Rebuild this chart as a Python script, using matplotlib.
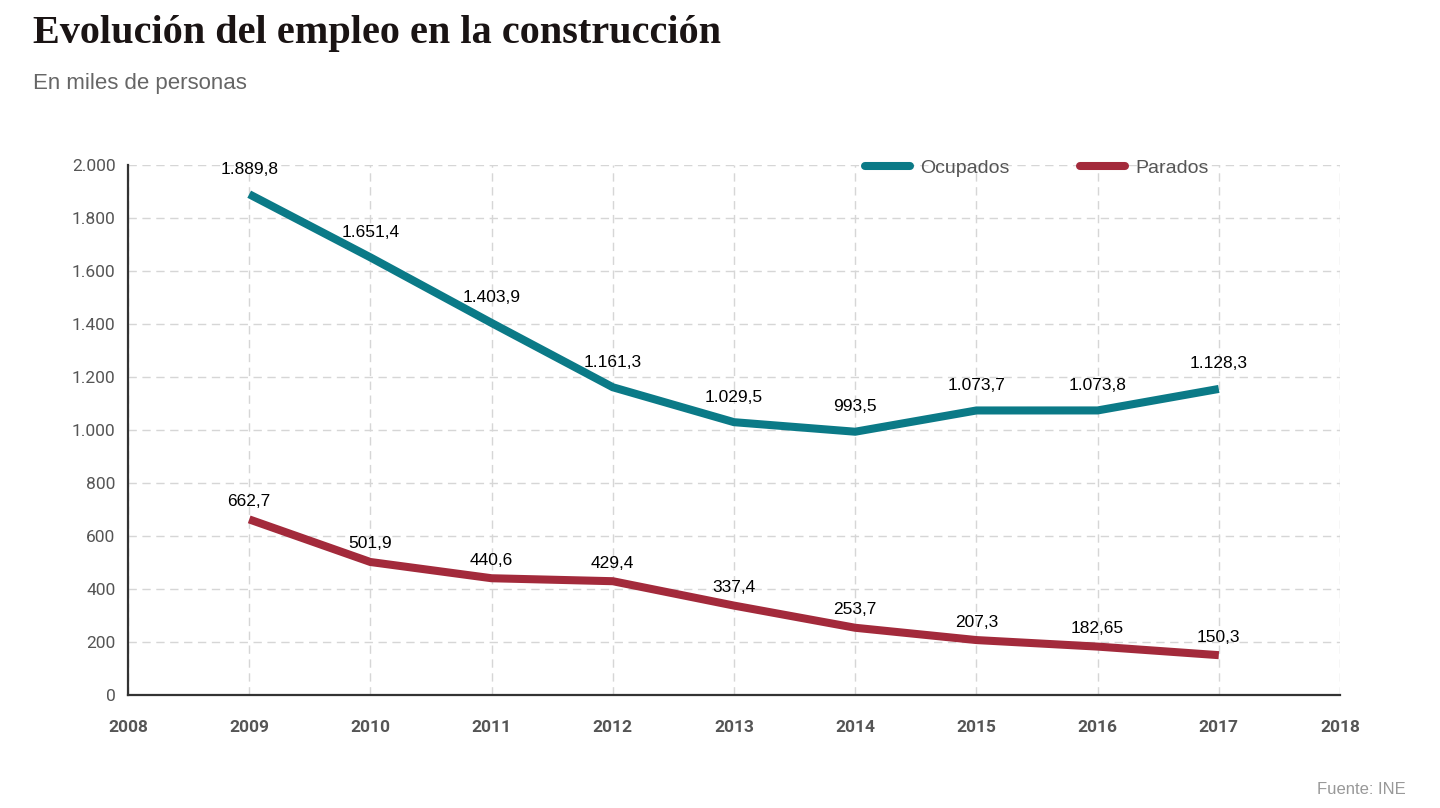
import matplotlib.pyplot as plt
from matplotlib.ticker import FuncFormatter

# Datos (miles de personas)
years = [2009, 2010, 2011, 2012, 2013, 2014, 2015, 2016, 2017]
ocupados = [1889.8, 1651.4, 1403.9, 1161.3, 1029.5, 993.5, 1073.7, 1073.8, 1155.0]
parados = [662.7, 501.9, 440.6, 429.4, 337.4, 253.7, 207.3, 182.65, 150.3]
ocupados_labels = ['1.889,8', '1.651,4', '1.403,9', '1.161,3', '1.029,5',
                   '993,5', '1.073,7', '1.073,8', '1.128,3']
parados_labels = ['662,7', '501,9', '440,6', '429,4', '337,4',
                  '253,7', '207,3', '182,65', '150,3']

teal = '#0b7a87'
red = '#a32a3b'

fig = plt.figure(figsize=(14.4, 8.08), dpi=100)
ax = fig.add_axes([128 / 1440, 1 - 695 / 808, (1340 - 128) / 1440, (695 - 165) / 808])

ax.plot(years, ocupados, color=teal, lw=5.8, solid_capstyle='butt',
        solid_joinstyle='miter', label='Ocupados', zorder=3)
ax.plot(years, parados, color=red, lw=5.8, solid_capstyle='butt',
        solid_joinstyle='miter', label='Parados', zorder=3)

for x, y, t in zip(years, ocupados, ocupados_labels):
    ax.annotate(t, (x, y), xytext=(0, 25), textcoords='offset pixels',
                ha='center', va='center', fontsize=12.5,
                family='Liberation Sans', color='black', zorder=4)
for x, y, t in zip(years, parados, parados_labels):
    ax.annotate(t, (x, y), xytext=(0, 18), textcoords='offset pixels',
                ha='center', va='center', fontsize=12.5,
                family='Liberation Sans', color='black', zorder=4)

ax.set_xlim(2008, 2018)
ax.set_ylim(0, 2000)
ax.set_xticks(range(2008, 2019))
ax.set_yticks(range(0, 2001, 200))
ax.yaxis.set_major_formatter(FuncFormatter(lambda v, p: f'{int(v):,}'.replace(',', '.')))

ax.grid(True, color='#d6d6d6', lw=1, ls=(0, (6, 4)))
ax.set_axisbelow(True)

for s in ['top', 'right']:
    ax.spines[s].set_visible(False)
for s in ['left', 'bottom']:
    ax.spines[s].set_color('#333333')
    ax.spines[s].set_linewidth(1.6)

ax.tick_params(axis='both', length=0)
ax.tick_params(axis='y', pad=9, labelcolor='#555555')
ax.tick_params(axis='x', pad=18, labelcolor='#555555')
for lab in ax.get_yticklabels():
    lab.set_family('Roboto')
    lab.set_fontsize(12.5)
for lab in ax.get_xticklabels():
    lab.set_family('Roboto')
    lab.set_fontweight('bold')
    lab.set_fontsize(12.5)

leg = ax.legend(loc='center left', bbox_to_anchor=(865 / 1440, 1 - 168 / 808),
                bbox_transform=fig.transFigure, ncol=2, frameon=False,
                borderpad=0, borderaxespad=0, handlelength=2.3,
                handletextpad=0.55, columnspacing=3.6,
                prop={'family': 'Liberation Sans', 'size': 14})
for t in leg.get_texts():
    t.set_color('#555555')
for h in leg.get_lines():
    h.set_solid_capstyle('round')

fig.text(33 / 1440, 1 - 34 / 808, 'Evolución del empleo en la construcción',
         family='Liberation Serif', fontsize=29, fontweight='bold',
         color='#1a1414', ha='left', va='center')
fig.text(33 / 1440, 1 - 83 / 808, 'En miles de personas',
         family='Liberation Sans', fontsize=16, color='#666666',
         ha='left', va='center')
fig.text(1406 / 1440, 1 - 789 / 808, 'Fuente: INE',
         family='Liberation Sans', fontsize=12, color='#999999',
         ha='right', va='center')

fig.savefig('out.png', dpi=100)
